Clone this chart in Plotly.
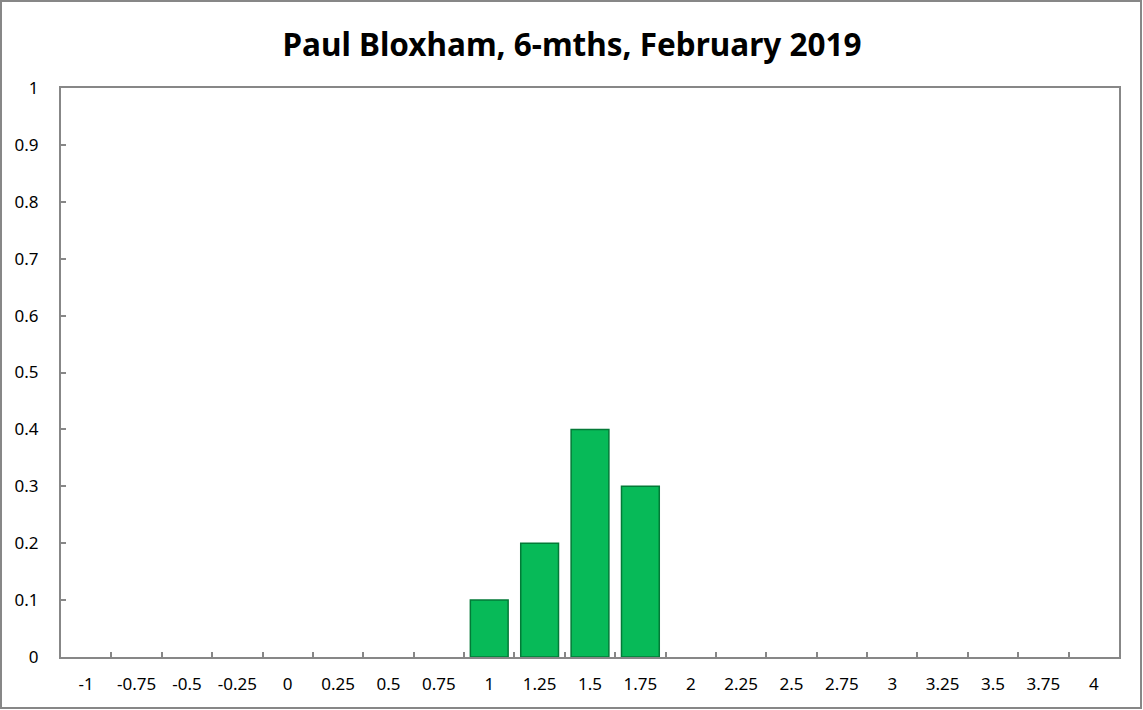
import plotly.graph_objects as go

categories = ["-1", "-0.75", "-0.5", "-0.25", "0", "0.25", "0.5", "0.75", "1", "1.25",
              "1.5", "1.75", "2", "2.25", "2.5", "2.75", "3", "3.25", "3.5", "3.75", "4"]
probabilities = [0, 0, 0, 0, 0, 0, 0, 0, 0.1, 0.2, 0.4, 0.3, 0, 0, 0, 0, 0, 0, 0, 0, 0]
y_ticks = [0, 0.1, 0.2, 0.3, 0.4, 0.5, 0.6, 0.7, 0.8, 0.9, 1]
y_tick_labels = ["0", "0.1", "0.2", "0.3", "0.4", "0.5", "0.6", "0.7", "0.8", "0.9", "1"]

W, H = 1143, 710
L, R, T, B = 61, 1119, 88, 657
pw, ph = R - L, B - T

fig = go.Figure()
fig.add_trace(go.Bar(
    x=categories, y=probabilities,
    marker=dict(color="#07BA58",
                line=dict(color="#037A37", width=[1.5 if v > 0 else 0 for v in probabilities])),
))

fig.update_layout(
    width=W, height=H,
    margin=dict(l=L, r=W - R, t=T, b=H - B),
    paper_bgcolor="white", plot_bgcolor="white",
    bargap=0.25,
    showlegend=False,
    font=dict(family="Noto Sans, Open Sans, sans-serif", size=17, color="black"),
    title=dict(text="<b>Paul Bloxham, 6-mths, February 2019</b>",
               x=572 / W, xanchor="center", y=1 - 45 / H, yanchor="middle",
               font=dict(size=31.5, color="black")),
    xaxis=dict(type="category", showline=True, linecolor="#878787", linewidth=2,
               mirror=True, ticks="inside", tickson="boundaries", ticklen=5,
               tickcolor="#878787", tickwidth=2, showgrid=False,
               tickfont=dict(size=17), ticklabelstandoff=11),
    yaxis=dict(range=[0, 1], tickvals=y_ticks, ticktext=y_tick_labels,
               showline=True, linecolor="#878787", linewidth=2, mirror=True,
               ticks="inside", ticklen=5, tickcolor="#878787", tickwidth=2,
               showgrid=False, zeroline=False, tickfont=dict(size=17),
               ticklabelstandoff=17),
    shapes=[dict(type="rect", xref="paper", yref="paper",
                 x0=(1 - L) / pw, x1=(W - 2 - L) / pw,
                 y0=(B - (H - 2)) / ph, y1=(B - 1) / ph,
                 line=dict(color="#878787", width=2), fillcolor="rgba(0,0,0,0)",
                 layer="below")],
)

fig.write_html("out.html", config={"displayModeBar": False},
               post_script="document.body.style.margin='0';document.body.style.overflow='hidden';")
